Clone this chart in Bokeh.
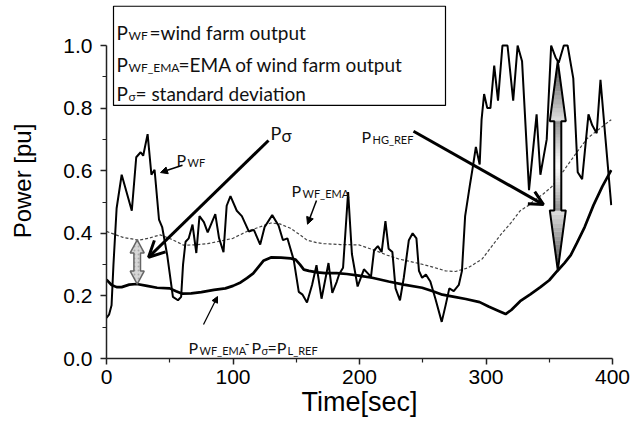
import numpy as np
from bokeh.plotting import figure
from bokeh.models import Range1d, Label, Arrow, OpenHead, NormalHead, FixedTicker, NumeralTickFormatter
from bokeh.embed import file_html
from bokeh.resources import INLINE

# ---------------- data ----------------
time_wf = [0, 2, 4, 5.5, 8, 12, 20, 23.5, 27, 29, 32.5, 35.5, 38, 41.5, 44, 48, 52.5, 56.5, 59,
           60.5, 62.5, 65, 68, 71, 73.5, 77, 80, 86, 89, 92.5, 95, 98, 103, 107, 112.5, 116.5,
           121.5, 125, 131, 136, 139.5, 143, 148, 152, 155, 158.5, 162.5, 166, 170, 175.5, 178.5,
           182, 184, 187, 191, 194, 198.5, 203.5, 207.5, 209, 211.5, 214.5, 217.5, 220.5, 223,
           226, 228.5, 232, 235, 239, 242, 245, 247, 249.5, 252.5, 256, 260, 265, 268, 271,
           274.5, 278.5, 281, 283.5, 287.5, 289.5, 292, 295, 296.5, 298.5, 301, 303.5, 306.5,
           309.5, 313, 317, 321.5, 325, 328.5, 334, 340, 343, 348, 351.5, 355, 357.5, 361.5,
           364.5, 369, 372.5, 376, 381, 384, 387.5, 390.5, 394.5, 399]
p_wf = [0.13, 0.14, 0.17, 0.30, 0.48, 0.587, 0.472, 0.643, 0.659, 0.648, 0.717, 0.587, 0.603,
        0.444, 0.42, 0.33, 0.197, 0.186, 0.197, 0.30, 0.373, 0.384, 0.428, 0.337, 0.455, 0.436,
        0.403, 0.461, 0.384, 0.34, 0.488, 0.519, 0.472, 0.455, 0.406, 0.411, 0.364, 0.42, 0.458,
        0.425, 0.378, 0.384, 0.315, 0.213, 0.204, 0.179, 0.235, 0.298, 0.191, 0.305, 0.21,
        0.245, 0.27, 0.29, 0.532, 0.334, 0.23, 0.285, 0.268, 0.258, 0.345, 0.359, 0.34, 0.439,
        0.351, 0.34, 0.224, 0.186, 0.258, 0.378, 0.40, 0.384, 0.28, 0.258, 0.268, 0.246, 0.191,
        0.117, 0.169, 0.224, 0.215, 0.235, 0.28, 0.455, 0.56, 0.61, 0.676, 0.62, 0.763, 0.845,
        0.80, 0.80, 0.936, 0.824, 1.0, 1.0, 0.824, 1.0, 0.95, 0.538, 0.78, 0.587, 0.70, 1.0,
        0.962, 0.945, 1.0, 1.0, 0.895, 0.595, 0.573, 0.78, 0.745, 0.72, 0.89, 0.70, 0.49]

time_ema = [0, 13, 25.5, 33, 42.5, 52, 61, 70, 80, 90, 100, 111, 121, 130, 137, 145, 152, 158.5,
            166, 172, 185, 199.5, 212.5, 222, 231, 240, 249.5, 258, 268, 276, 286, 297, 303,
            311.5, 320, 327, 334, 338, 345, 352, 358, 364, 372, 380, 390, 399]
p_ema = [0.406, 0.387, 0.378, 0.384, 0.395, 0.38, 0.362, 0.363, 0.367, 0.375, 0.384, 0.406,
         0.42, 0.433, 0.43, 0.417, 0.398, 0.378, 0.37, 0.367, 0.364, 0.363, 0.345, 0.33, 0.318,
         0.31, 0.301, 0.292, 0.28, 0.278, 0.29, 0.318, 0.35, 0.395, 0.435, 0.472, 0.49, 0.505,
         0.525, 0.549, 0.58, 0.615, 0.66, 0.703, 0.735, 0.763]

time_lref = [0, 4, 8, 12, 18, 24, 32, 40, 50, 55, 60, 67, 75, 85, 94, 100, 106, 111, 116, 120,
             124, 130, 138, 145.5, 149.5, 153, 156, 160, 166.5, 173, 182, 190, 199.5, 210, 223,
             235, 249.5, 258, 265.5, 275, 284, 295, 302, 310, 315.5, 320, 327, 335, 343, 350,
             356, 362, 367, 372, 378, 385, 392, 399]
p_lref = [0.252, 0.235, 0.228, 0.228, 0.236, 0.238, 0.232, 0.226, 0.224, 0.215, 0.207, 0.208,
          0.212, 0.219, 0.224, 0.232, 0.243, 0.257, 0.272, 0.292, 0.312, 0.323, 0.322, 0.32,
          0.316, 0.30, 0.284, 0.28, 0.275, 0.273, 0.273, 0.27, 0.265, 0.258, 0.246, 0.236,
          0.226, 0.215, 0.204, 0.197, 0.19, 0.18, 0.166, 0.152, 0.142, 0.155, 0.183, 0.205,
          0.228, 0.25, 0.278, 0.305, 0.33, 0.37, 0.42, 0.49, 0.55, 0.602]

x_ticks = [0, 100, 200, 300, 400]
x_minor = [50, 150, 250, 350]
y_ticks = [0.0, 0.2, 0.4, 0.6, 0.8, 1.0]
y_minor = [0.1, 0.3, 0.5, 0.7, 0.9]

# ---------------- layout ----------------
W, H = 631, 427
FL, FR, FT, FB = 106, 612, 3, 358
PXX = (FR - FL) / 400.0
FRAME_PXY = 313.0
YTOP = (FB - FT) / FRAME_PXY

# placement helpers for annotations (positions measured relative to the ticks)
A_Y0, A_PXY = 348.0, 303.0


def px_x(px):
    return (px - FL) / PXX


def px_y(py):
    return (A_Y0 - py) / A_PXY


p = figure(width=W, height=H, x_range=Range1d(0, 400), y_range=Range1d(0, YTOP),
           output_backend="svg", toolbar_location=None,
           min_border_left=FL, min_border_right=W - FR, min_border_top=FT,
           min_border_bottom=H - FB)
p.outline_line_color = None
p.xgrid.visible = False
p.ygrid.visible = False
p.background_fill_color = "white"

AXF = "Liberation Sans"
for ax in (p.xaxis[0], p.yaxis[0]):
    ax.axis_line_width = 1.5
    ax.axis_line_color = "#222222"
    ax.major_tick_out = 6
    ax.major_tick_in = 0
    ax.minor_tick_out = 4
    ax.minor_tick_in = 0
    ax.major_tick_line_width = 1.5
    ax.minor_tick_line_width = 1.2
    ax.major_tick_line_color = "#222222"
    ax.minor_tick_line_color = "#222222"
    ax.major_label_text_font = AXF
    ax.major_label_text_font_size = "21px"
    ax.major_label_text_color = "black"
    ax.axis_label_text_font = AXF
    ax.axis_label_text_font_style = "normal"
    ax.axis_label_text_color = "black"

p.xaxis.ticker = FixedTicker(ticks=x_ticks, minor_ticks=x_minor)
p.yaxis.ticker = FixedTicker(ticks=y_ticks, minor_ticks=y_minor)
p.yaxis.formatter = NumeralTickFormatter(format="0.0")
p.yaxis.bounds = (0, 1.0)
p.xaxis.major_label_standoff = 5
p.yaxis.major_label_standoff = 8
p.xaxis.axis_label = "Time[sec]"
p.xaxis.axis_label_text_font_size = "27px"
p.xaxis.axis_label_standoff = 0
p.yaxis.axis_label = "Power [pu]"
p.yaxis.axis_label_text_font_size = "24px"
p.yaxis.axis_label_standoff = 24

# ---------------- series ----------------
p.line(time_ema, p_ema, line_color="#444444", line_width=1.2, line_dash="3 2")
p.line(time_lref, p_lref, line_color="black", line_width=2.7)
p.line(time_wf, p_wf, line_color="black", line_width=2)

# ---------------- legend box ----------------
p.quad(left=px_x(113), right=px_x(445), top=px_y(7), bottom=px_y(103),
       fill_color="white", line_color="black", line_width=1.2)

TF = "Lato"


def txt(s, px, py, size, color="#111111"):
    p.add_layout(Label(x=px_x(px), y=px_y(py), text=s, text_font=TF,
                       text_font_size=f"{size}px", text_color=color,
                       text_baseline="alphabetic", text_align="left"))


# legend text
txt("P", 116, 32, 19); txt("WF", 128, 35, 12); txt("=wind farm output", 149, 32, 19)
txt("P", 116, 63, 19); txt("WF_EMA", 128, 66, 12); txt("=EMA of wind farm output", 178, 63, 19)
txt("P", 116, 91, 19); txt("σ", 128, 94, 12); txt("= standard deviation", 135, 91, 19)

# annotations
txt("P", 270, 130, 18); txt("σ", 281, 132, 17)
txt("P", 176, 155, 16); txt("WF", 187, 158, 11)
txt("P", 291, 185, 16); txt("WF_EMA", 302, 188, 11)
txt("P", 361, 133, 16); txt("HG_REF", 372, 136, 11)
txt("P", 188, 337, 16); txt("WF_EMA", 199, 340, 11); txt("-", 244, 334, 14)
txt("P", 251, 337, 16); txt("σ", 261, 340, 11); txt("=P", 267, 337, 16); txt("L_REF", 287, 340, 11)


def arrow(x0, y0, x1, y1, lw, head):
    p.add_layout(Arrow(x_start=px_x(x0), y_start=px_y(y0), x_end=px_x(x1), y_end=px_y(y1),
                       line_width=lw, line_color="black", end=head))


arrow(268, 137, 148, 250, 3, OpenHead(size=16, line_width=3, line_color="black"))
arrow(413, 128, 543, 199, 3, OpenHead(size=14, line_width=3, line_color="black"))
arrow(182, 161, 160, 168, 1.5, NormalHead(size=7, fill_color="black", line_color="black"))
arrow(316, 195, 307, 218, 1.5, NormalHead(size=7, fill_color="black", line_color="black"))
arrow(203, 315, 217, 288, 1.2, NormalHead(size=6, fill_color="black", line_color="black"))


# ---------------- double arrows ----------------
def arrow_outline(cx, yt, yb, hl_px, hw_px, sw_px):
    hl = hl_px / FRAME_PXY; hw = hw_px / PXX; sw = sw_px / PXX
    xs = [cx, cx + hw, cx + sw, cx + sw, cx + hw, cx, cx - hw, cx - sw, cx - sw, cx - hw]
    ys = [yt, yt - hl, yt - hl, yb + hl, yb + hl, yb, yb + hl, yb + hl, yt - hl, yt - hl]
    return xs, ys


def gray(g):
    g = int(max(0, min(255, g)))
    return "#%02x%02x%02x" % (g, g, g)


def gradient_arrow(cx, yt, yb, hl_px, hw_px, sw_px, n=14):
    hl = hl_px / FRAME_PXY; hw = hw_px / PXX; sw = sw_px / PXX
    xs_all, ys_all, cols = [], [], []
    for i in range(n):
        a = yt - hl + hl * i / n
        b = yt - hl + hl * (i + 1) / n
        wa = hw * (yt - a) / hl
        wb = hw * (yt - b) / hl
        xs_all.append([cx - wa, cx + wa, cx + wb, cx - wb]); ys_all.append([a, a, b, b])
        cols.append(gray(225 - 150 * (i + 0.5) / n))
    for i in range(n):
        a = yb + hl * i / n
        b = yb + hl * (i + 1) / n
        wa = hw * (a - yb) / hl
        wb = hw * (b - yb) / hl
        xs_all.append([cx - wa, cx + wa, cx + wb, cx - wb]); ys_all.append([a, a, b, b])
        cols.append(gray(75 + 150 * (i + 0.5) / n))
    s0, s1 = yb + hl, yt - hl
    m = 2 * n
    for i in range(m):
        a = s0 + (s1 - s0) * i / m
        b = s0 + (s1 - s0) * (i + 1) / m
        f = abs((i + 0.5) / m - 0.5) * 2
        xs_all.append([cx - sw, cx + sw, cx + sw, cx - sw]); ys_all.append([a, a, b, b])
        cols.append(gray(250 - 110 * f ** 1.3))
    p.patches(xs_all, ys_all, fill_color=cols, line_color=cols, line_width=0.5)
    xs, ys = arrow_outline(cx, yt, yb, hl_px, hw_px, sw_px)
    p.patch(xs, ys, fill_color=None, line_color="black", line_width=2)


t_small = px_x(136.7)
xs, ys = arrow_outline(t_small, float(np.interp(t_small, time_ema, p_ema)),
                       float(np.interp(t_small, time_lref, p_lref)), 13, 7, 3.3)
p.patch(xs, ys, fill_color="#d6d6d6", line_color="#666666", line_width=1.5,
        hatch_pattern="dot", hatch_color="#aaaaaa", hatch_scale=4)

t_big = px_x(557.3)
gradient_arrow(t_big, float(np.interp(t_big, time_wf, p_wf)),
               float(np.interp(t_big, time_lref, p_lref)), 60, 8, 3.5)

open("out.html", "w").write(file_html(p, INLINE))
